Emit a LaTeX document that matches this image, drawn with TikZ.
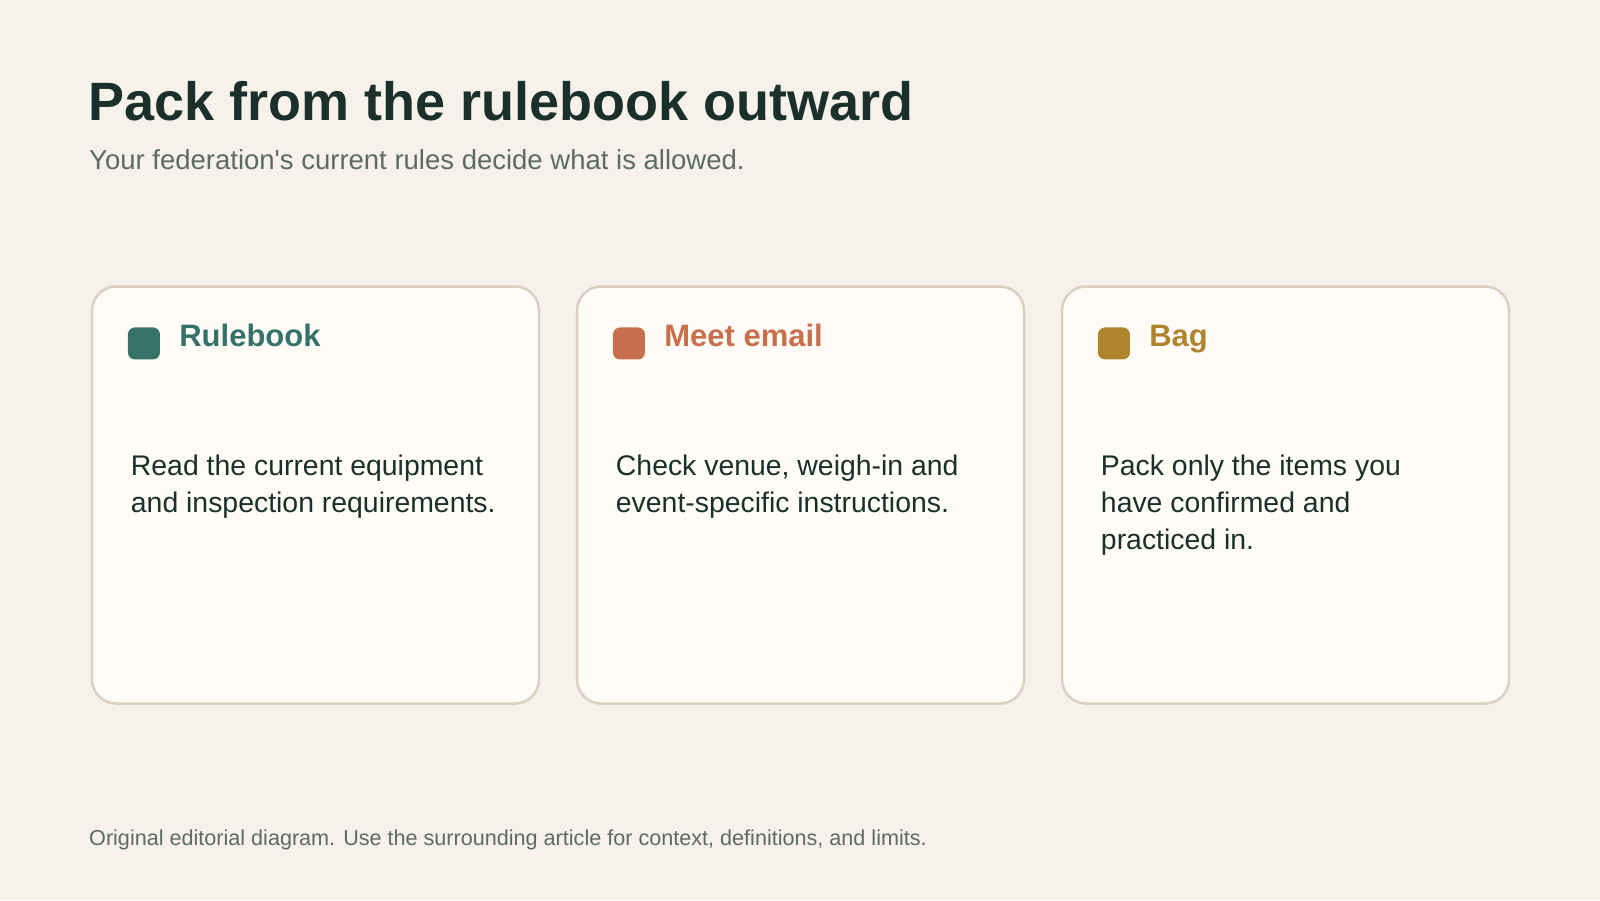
\documentclass[tikz,border=0pt]{standalone}
\usepackage{fontspec}
\setmainfont{Liberation Sans}
\usetikzlibrary{positioning}
\definecolor{paper}{HTML}{F6F1EB}
\definecolor{cardfill}{HTML}{FFFCF7}
\definecolor{cardline}{HTML}{DBD0C1}
\definecolor{ink}{HTML}{1B2F2B}
\definecolor{muted}{HTML}{5E6A65}
\definecolor{rulegreen}{HTML}{35736A}
\definecolor{emailorange}{HTML}{C8704E}
\definecolor{baggold}{HTML}{AE852E}
\tikzstyle{card} = [rectangle, rounded corners=24pt, minimum width=447pt, minimum height=417pt, draw=cardline, line width=2.5pt, fill=cardfill]
\tikzstyle{marker} = [rectangle, rounded corners=7pt, minimum size=32pt, inner sep=0pt]
\tikzstyle{heading} = [anchor=base west, inner sep=0pt, font=\fontsize{31}{36}\selectfont\bfseries]
\tikzstyle{body} = [anchor=north west, inner sep=0pt, align=left, text=ink, font=\fontsize{28.4}{36.7}\selectfont]

\begin{document}
\begin{tikzpicture}
				[x=1pt, y=-1pt]

				\fill [paper] (0,0) rectangle (1600,900);
				\useasboundingbox (0,0) rectangle (1600,900);

				\node (title) [anchor=base west, inner sep=0pt, text=ink, font=\fontsize{54}{60}\selectfont\bfseries] at (88,120) {Pack from the rulebook outward};
				\node (subtitle) [anchor=base west, inner sep=0pt, text=muted, font=\fontsize{27.5}{32}\selectfont] at (89,169) {Your federation\textquotesingle s current rules decide what is allowed.};

				\node (rulebook) [card] at (315.5,495) {};
				\node (email) [card] at (800.5,495) {};
				\node (bag) [card] at (1285.5,495) {};

				\node (rulebookmark) [marker, fill=rulegreen, below right=42pt and 37pt of rulebook.north west] {};
				\node (emailmark) [marker, fill=emailorange, below right=42pt and 37pt of email.north west] {};
				\node (bagmark) [marker, fill=baggold, below right=42pt and 37pt of bag.north west] {};

				\node (rulebooktitle) [heading, text=rulegreen] at ([xshift=19pt, yshift=-19pt]rulebookmark.north east) {Rulebook};
				\node (emailtitle) [heading, text=emailorange] at ([xshift=19pt, yshift=-19pt]emailmark.north east) {Meet email};
				\node (bagtitle) [heading, text=baggold] at ([xshift=19pt, yshift=-19pt]bagmark.north east) {Bag};

				\node (rulebooktext) [body] at ([xshift=3pt, yshift=-95.5pt]rulebookmark.south west) {Read the current equipment\\and inspection requirements.};
				\node (emailtext) [body] at ([xshift=3pt, yshift=-95.5pt]emailmark.south west) {Check venue, weigh-in and\\event-specific instructions.};
				\node (bagtext) [body] at ([xshift=3pt, yshift=-95.5pt]bagmark.south west) {Pack only the items you\\have confirmed and\\practiced in.};

				\node (footer) [anchor=base west, inner sep=0pt, text=muted, font=\fontsize{21.6}{24}\selectfont] at (89,845) {Original editorial diagram. Use the surrounding article for context, definitions, and limits.};
			\end{tikzpicture}
\end{document}
